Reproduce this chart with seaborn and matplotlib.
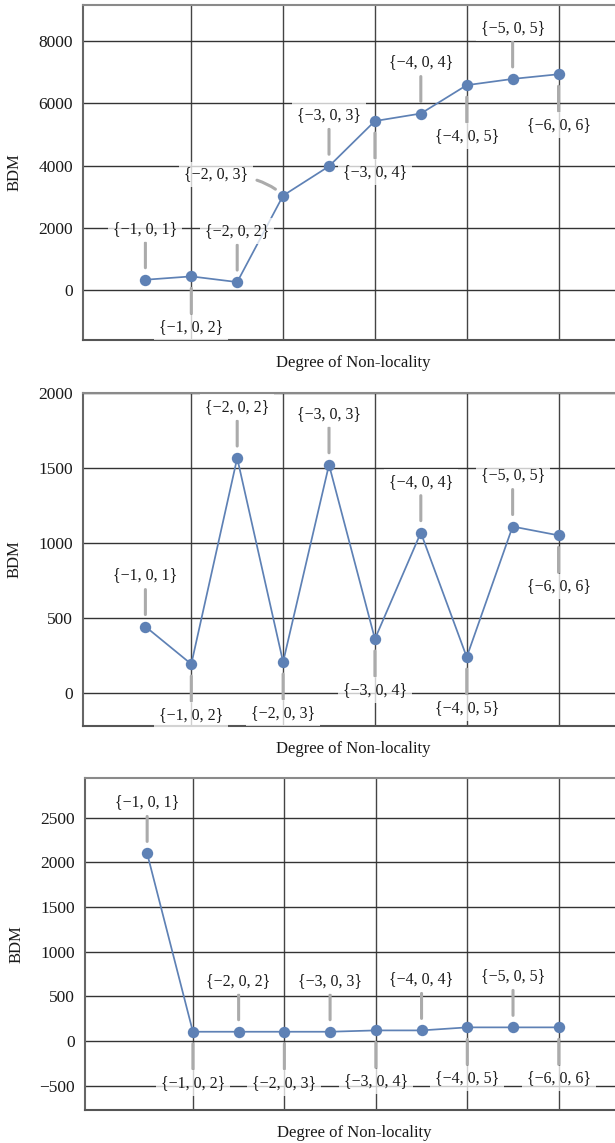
import matplotlib
matplotlib.use("Agg")
import matplotlib.pyplot as plt
from matplotlib.ticker import MultipleLocator
import seaborn as sns
import pandas as pd

# ---- data -------------------------------------------------------------
degree = [1, 2, 3, 4, 5, 6, 7, 8, 9, 10]
labels = ["{−1, 0, 1}", "{−1, 0, 2}", "{−2, 0, 2}", "{−2, 0, 3}", "{−3, 0, 3}",
          "{−3, 0, 4}", "{−4, 0, 4}", "{−4, 0, 5}", "{−5, 0, 5}", "{−6, 0, 6}"]

bdm_top = [342, 449, 267, 3040, 3980, 5430, 5670, 6580, 6780, 6930]
bdm_mid = [441, 190, 1568, 204, 1523, 358, 1069, 237, 1110, 1051]
bdm_bot = [2100, 104, 104, 104, 104, 119, 119, 153, 153, 153]

yticks_top = [0, 2000, 4000, 6000, 8000]
yticks_mid = [0, 500, 1000, 1500, 2000]
yticks_bot = [-500, 0, 500, 1000, 1500, 2000, 2500]

# ---- style ------------------------------------------------------------
sns.set_style("white")
plt.rcParams["font.family"] = ["Liberation Serif", "DejaVu Serif"]
plt.rcParams["axes.unicode_minus"] = True

LINE = "#5e81b5"
LEADER = "#ababab"
GRID = "#333333"
PX = 0.72  # points per pixel at 100 dpi

fig = plt.figure(figsize=(6.15, 11.43), dpi=100)
W, H = 615.0, 1143.0


def make_axes(left_px, top_px, bottom_px):
    return fig.add_axes([left_px / W, 1 - bottom_px / H,
                         1 - left_px / W, (bottom_px - top_px) / H])


def draw_panel(ax, values, yticks, ylim, minor, sides):
    df = pd.DataFrame({"degree": degree, "BDM": values})
    sns.lineplot(data=df, x="degree", y="BDM", ax=ax, color=LINE, lw=1.25,
                 marker="o", markersize=8.2, markeredgewidth=0, zorder=3)
    ax.set_xlim(-0.37, 11.23)
    ax.set_ylim(*ylim)
    ax.set_xticks([2, 4, 6, 8, 10])
    ax.set_xticklabels([])
    ax.set_yticks(yticks)
    ax.set_yticklabels([f"{t:d}".replace("-", "−") for t in yticks])
    ax.yaxis.set_minor_locator(MultipleLocator(minor))
    ax.tick_params(axis="x", length=0)
    ax.tick_params(axis="y", which="major", direction="in", length=7,
                   width=1, color="#555555", labelsize=12.5, pad=7,
                   labelcolor="#1a1a1a")
    ax.tick_params(axis="y", which="minor", direction="in", length=4,
                   width=1, color="#555555")
    ax.set_axisbelow(True)
    ax.grid(axis="y", which="major", color=GRID, lw=1.0)
    ax.grid(axis="x", which="major", color="#444444", lw=1.0)
    for s in ("left", "bottom", "top"):
        ax.spines[s].set_visible(True)
        ax.spines[s].set_linewidth(1.5)
    ax.spines["left"].set_color("#666666")
    ax.spines["bottom"].set_color("#555555")
    ax.spines["top"].set_color("#8a8a8a")
    ax.spines["right"].set_visible(False)

    ax.set_xlabel("Degree of Non-locality", fontsize=12, color="#1a1a1a")
    ax.xaxis.label.set_va("center")
    ax.xaxis.set_label_coords(0.508, -0.068)
    ax.set_ylabel("BDM", fontsize=12, color="#1a1a1a")
    ax.yaxis.label.set_va("center")
    ax.yaxis.set_label_coords(-0.128, 0.5)

    box = dict(boxstyle="square,pad=0.3", fc="white", ec="none", alpha=0.75)
    for x, y, text, side in zip(degree, values, labels, sides):
        if side == "curve":
            ax.annotate(text, xy=(x, y), xytext=(-67 * PX, 21 * PX),
                        textcoords="offset points", ha="center", va="center",
                        fontsize=11.5, color="#1a1a1a", bbox=box, zorder=5,
                        arrowprops=dict(arrowstyle="-", color=LEADER, lw=2.2,
                                        shrinkA=3, shrinkB=10 * PX,
                                        connectionstyle="angle3,angleA=0,angleB=135"))
            continue
        sign = 1 if side == "up" else -1
        ax.annotate("", xy=(x, y), xytext=(0, sign * 37 * PX),
                    textcoords="offset points",
                    arrowprops=dict(arrowstyle="-", color=LEADER, lw=2.2,
                                    shrinkA=0, shrinkB=12 * PX), zorder=4)
        ax.annotate(text, xy=(x, y), xytext=(0, sign * 51 * PX),
                    textcoords="offset points", ha="center", va="center",
                    fontsize=11.5, color="#1a1a1a", bbox=box, zorder=5)


alternating = ["up", "down"] * 5
top_sides = ["up", "down", "up", "curve", "up", "down", "up", "down", "up", "down"]

ax1 = make_axes(82.5, 5, 340)
draw_panel(ax1, bdm_top, yticks_top, (-1590, 9150), 500, top_sides)

ax2 = make_axes(82.5, 393, 726)
draw_panel(ax2, bdm_mid, yticks_mid, (-224, 2003), 100, alternating)

ax3 = make_axes(84.5, 777.5, 1110)
draw_panel(ax3, bdm_bot, yticks_bot, (-772, 2950), 100, alternating)

fig.savefig("out.png", dpi=100)
